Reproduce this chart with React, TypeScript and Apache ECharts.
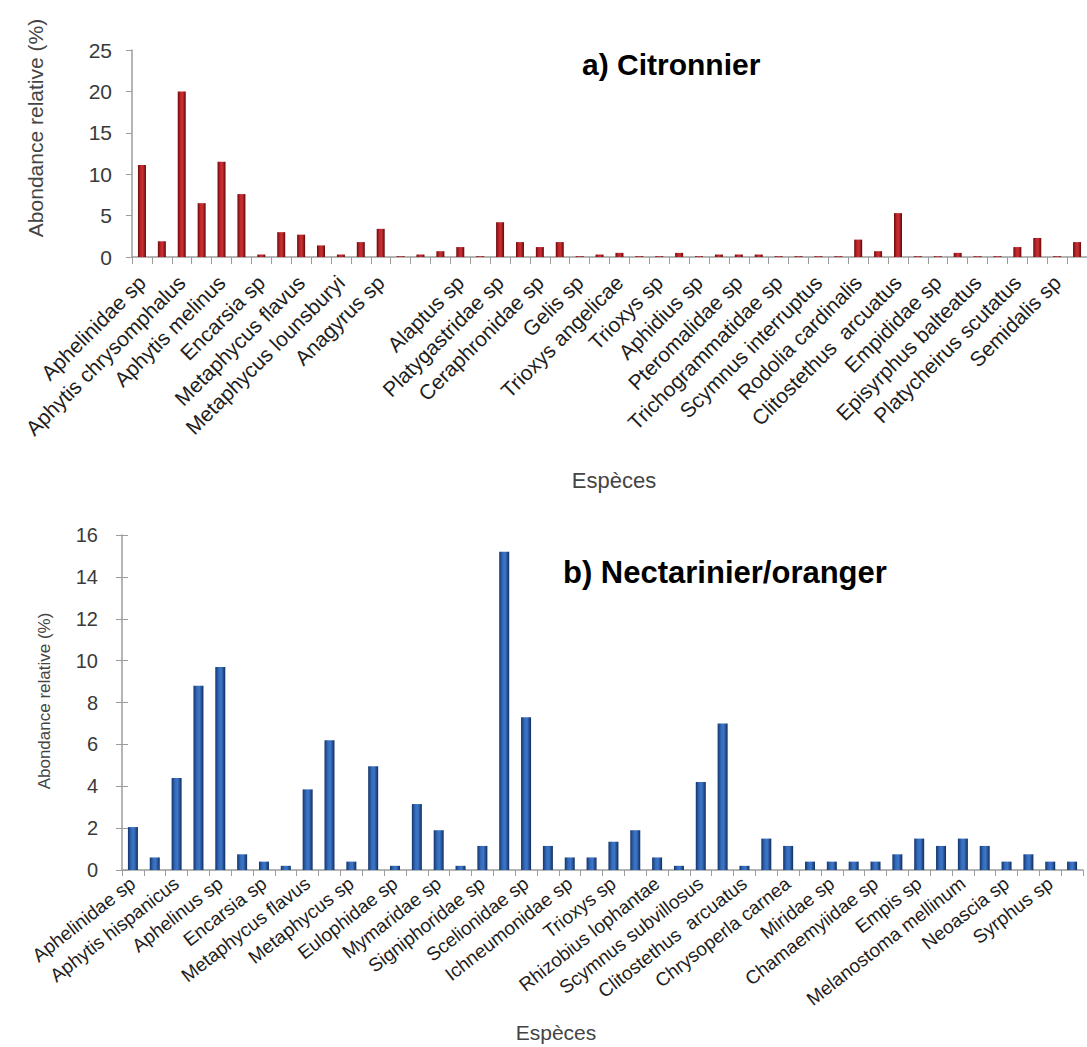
import React, { useEffect, useRef } from "react";
import * as echarts from "echarts";

// ---- a) Citronnier ----
const topCategories: string[] = [
  "Aphelinidae sp", "", "Aphytis chrysomphalus", "", "Aphytis melinus", "",
  "Encarsia sp", "", "Metaphycus flavus", "", "Metaphycus lounsburyi", "",
  "Anagyrus sp", "", "", "", "Alaptus sp", "", "Platygastridae sp", "",
  "Ceraphronidae sp", "", "Gelis sp", "", "Trioxys angelicae", "", "Trioxys sp", "",
  "Aphidius sp", "", "Pteromalidae sp", "", "Trichogrammatidae sp", "",
  "Scymnus interruptus", "", "Rodolia cardinalis", "", "Clitostethus  arcuatus", "",
  "Empididae sp", "", "Episyrphus balteatus", "", "Platycheirus scutatus", "",
  "Semidalis sp", "",
];
const topValues: number[] = [
  11.1, 1.9, 20.0, 6.5, 11.5, 7.6, 0.3, 3.0, 2.7, 1.4, 0.3, 1.8,
  3.4, 0.1, 0.3, 0.7, 1.2, 0.1, 4.2, 1.8, 1.2, 1.8, 0.1, 0.3,
  0.5, 0.1, 0.1, 0.5, 0.1, 0.3, 0.3, 0.3, 0.1, 0.1, 0.1, 0.1,
  2.1, 0.7, 5.3, 0.1, 0.1, 0.5, 0.1, 0.1, 1.2, 2.3, 0.1, 1.8,
];
const topYMin = 0;
const topYMax = 25;
const topYStep = 5;

// ---- b) Nectarinier/oranger ----
const bottomCategories: string[] = [
  "Aphelinidae sp", "", "Aphytis hispanicus", "", "Aphelinus sp", "",
  "Encarsia sp", "", "Metaphycus flavus", "", "Metaphycus sp", "",
  "Eulophidae sp", "", "Mymaridae sp", "", "Signiphoridae sp", "",
  "Scelionidae sp", "", "Ichneumonidae sp", "", "Trioxys sp", "",
  "Rhizobius lophantae", "", "Scymnus subvillosus", "", "Clitostethus  arcuatus", "",
  "Chrysoperla carnea", "", "Miridae sp", "", "Chamaemyiidae sp", "",
  "Empis sp", "", "Melanostoma mellinum", "", "Neoascia sp", "", "Syrphus sp", "",
];
const bottomValues: number[] = [
  2.05, 0.6, 4.4, 8.8, 9.7, 0.75, 0.4, 0.2, 3.85, 6.2, 0.4, 4.95,
  0.2, 3.15, 1.9, 0.2, 1.15, 15.2, 7.3, 1.15, 0.6, 0.6, 1.35, 1.9,
  0.6, 0.2, 4.2, 7.0, 0.2, 1.5, 1.15, 0.4, 0.4, 0.4, 0.4, 0.75,
  1.5, 1.15, 1.5, 1.15, 0.4, 0.75, 0.4, 0.4,
];
const bottomYMin = 0;
const bottomYMax = 16;
const bottomYStep = 2;

const FONT = "'Liberation Sans', Arial, Helvetica, sans-serif";

export default function App() {
  const ref = useRef<HTMLDivElement>(null);

  useEffect(() => {
    document.body.style.margin = "0";
    if (!ref.current) return;
    const chart = echarts.init(ref.current, undefined, { renderer: "svg" });

    const redGrad = new echarts.graphic.LinearGradient(0, 0, 1, 0, [
      { offset: 0, color: "#6a0a0c" },
      { offset: 0.35, color: "#c0262a" },
      { offset: 0.6, color: "#c83034" },
      { offset: 1, color: "#5e0809" },
    ]);
    const blueGrad = new echarts.graphic.LinearGradient(0, 0, 1, 0, [
      { offset: 0, color: "#14346c" },
      { offset: 0.35, color: "#346cbc" },
      { offset: 0.6, color: "#3d76c6" },
      { offset: 1, color: "#102c60" },
    ]);

    const axisGrey = "#9c9c9c";

    chart.setOption({
      animation: false,
      textStyle: { fontFamily: FONT },
      grid: [
        { left: 132, top: 50, width: 963, height: 207 },
        { left: 122, top: 535, width: 961, height: 335 },
      ],
      xAxis: [
        {
          type: "category",
          gridIndex: 0,
          data: topCategories,
          axisLine: { lineStyle: { color: axisGrey, width: 1.5 } },
          axisTick: { show: true, interval: 0, length: 7, lineStyle: { color: axisGrey } },
          axisLabel: {
            interval: 1,
            rotate: 45,
            fontSize: 21,
            color: "#1e1e1e",
            margin: 22,
            fontFamily: FONT,
          },
        },
        {
          type: "category",
          gridIndex: 1,
          data: bottomCategories,
          axisLine: { lineStyle: { color: axisGrey, width: 1.5 } },
          axisTick: { show: true, interval: 0, length: 6, lineStyle: { color: axisGrey } },
          axisLabel: {
            interval: 1,
            rotate: 38,
            fontSize: 19,
            color: "#1e1e1e",
            margin: 11,
            fontFamily: FONT,
          },
        },
      ],
      yAxis: [
        {
          type: "value",
          gridIndex: 0,
          min: topYMin,
          max: topYMax,
          interval: topYStep,
          axisLine: { show: true, lineStyle: { color: axisGrey, width: 1.5 } },
          axisTick: { show: true, length: 6, lineStyle: { color: axisGrey } },
          splitLine: { show: false },
          axisLabel: { fontSize: 21, color: "#3a3a3a", margin: 20, fontFamily: FONT },
        },
        {
          type: "value",
          gridIndex: 1,
          position: "left",
          min: bottomYMin,
          max: bottomYMax,
          interval: bottomYStep,
          axisLine: { show: true, lineStyle: { color: axisGrey, width: 1.5 } },
          axisTick: { show: true, length: 6, lineStyle: { color: axisGrey } },
          splitLine: { show: false },
          axisLabel: { fontSize: 20, color: "#3a3a3a", margin: 24, fontFamily: FONT },
        },
        {
          type: "value",
          gridIndex: 1,
          position: "left",
          offset: 0,
          min: bottomYMin,
          max: bottomYMax,
          interval: bottomYStep,
          axisLine: { show: false },
          axisTick: { show: true, inside: true, length: 6, lineStyle: { color: axisGrey } },
          splitLine: { show: false },
          axisLabel: { show: false },
        },
      ],
      series: [
        {
          type: "bar",
          xAxisIndex: 0,
          yAxisIndex: 0,
          data: topValues,
          barWidth: 8,
          itemStyle: { color: redGrad },
        },
        {
          type: "bar",
          xAxisIndex: 1,
          yAxisIndex: 1,
          data: bottomValues,
          barWidth: 10,
          itemStyle: { color: blueGrad },
        },
      ],
      graphic: [
        {
          type: "text",
          x: 582,
          y: 64,
          style: {
            text: "a) Citronnier",
            font: `bold 30px ${FONT}`,
            fill: "#000",
            textAlign: "left",
            textVerticalAlign: "middle",
          },
        },
        {
          type: "text",
          x: 563,
          y: 572,
          style: {
            text: "b) Nectarinier/oranger",
            font: `bold 31px ${FONT}`,
            fill: "#000",
            textAlign: "left",
            textVerticalAlign: "middle",
          },
        },
        {
          type: "text",
          x: 35,
          y: 128,
          rotation: Math.PI / 2,
          style: {
            text: "Abondance relative (%)",
            font: `21px ${FONT}`,
            fill: "#444",
            textAlign: "center",
            textVerticalAlign: "middle",
          },
        },
        {
          type: "text",
          x: 44,
          y: 701,
          rotation: Math.PI / 2,
          style: {
            text: "Abondance relative (%)",
            font: `17px ${FONT}`,
            fill: "#444",
            textAlign: "center",
            textVerticalAlign: "middle",
          },
        },
        {
          type: "text",
          x: 614,
          y: 480,
          style: {
            text: "Espèces",
            font: `22px ${FONT}`,
            fill: "#444",
            textAlign: "center",
            textVerticalAlign: "middle",
          },
        },
        {
          type: "text",
          x: 556,
          y: 1032,
          style: {
            text: "Espèces",
            font: `21px ${FONT}`,
            fill: "#444",
            textAlign: "center",
            textVerticalAlign: "middle",
          },
        },
      ],
    });

    return () => {
      chart.dispose();
    };
  }, []);

  return <div ref={ref} style={{ width: 1087, height: 1047, background: "#fff" }} />;
}
